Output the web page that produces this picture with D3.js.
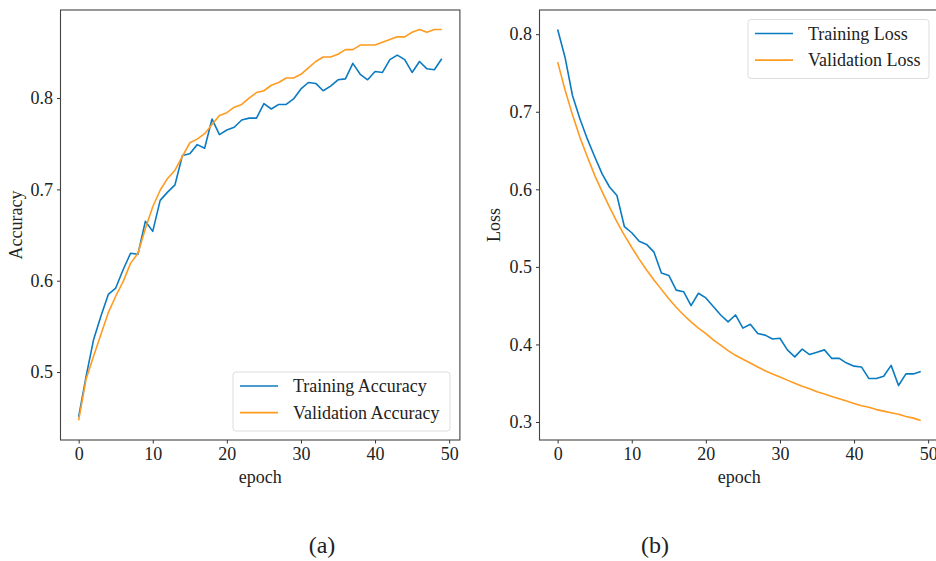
<!DOCTYPE html>
<html>
<head>
<meta charset="utf-8">
<script src="https://cdn.jsdelivr.net/npm/d3@7"></script>
<style>
  html, body { margin: 0; padding: 0; background: #fff; }
  svg { display: block; }
  text { font-family: "Liberation Serif", "Times New Roman", serif; fill: #222; }
</style>
</head>
<body>
<svg id="chart" width="936" height="561"></svg>
<script>
// ---- Data ----
const epochs = d3.range(0, 50);
const xTicks = [0, 10, 20, 30, 40, 50];
const accTicks = [0.5, 0.6, 0.7, 0.8];
const lossTicks = [0.3, 0.4, 0.5, 0.6, 0.7, 0.8];

const trainAcc = [0.451, 0.495, 0.535, 0.561, 0.585, 0.592, 0.612, 0.630, 0.629, 0.665,
  0.654, 0.688, 0.697, 0.705, 0.737, 0.739, 0.749, 0.745, 0.777, 0.760,
  0.765, 0.768, 0.776, 0.778, 0.778, 0.794, 0.788, 0.793, 0.793, 0.799,
  0.810, 0.817, 0.816, 0.808, 0.813, 0.820, 0.821, 0.838, 0.826, 0.820,
  0.829, 0.828, 0.842, 0.847, 0.842, 0.828, 0.840, 0.832, 0.831, 0.843];
const valAcc = [0.447, 0.492, 0.517, 0.541, 0.565, 0.583, 0.599, 0.619, 0.630, 0.657,
  0.681, 0.699, 0.712, 0.721, 0.736, 0.751, 0.755, 0.761, 0.771, 0.781,
  0.784, 0.790, 0.793, 0.800, 0.806, 0.808, 0.814, 0.817, 0.822, 0.822,
  0.826, 0.833, 0.840, 0.845, 0.845, 0.848, 0.853, 0.853, 0.858, 0.858,
  0.858, 0.861, 0.864, 0.867, 0.867, 0.872, 0.875, 0.872, 0.875, 0.875];
const trainLoss = [0.806, 0.770, 0.721, 0.691, 0.665, 0.642, 0.620, 0.603, 0.592, 0.552,
  0.544, 0.533, 0.529, 0.519, 0.492, 0.489, 0.470, 0.468, 0.450, 0.466,
  0.460, 0.449, 0.438, 0.429, 0.438, 0.421, 0.426, 0.414, 0.412, 0.407,
  0.408, 0.393, 0.384, 0.394, 0.387, 0.390, 0.393, 0.382, 0.382, 0.376,
  0.372, 0.371, 0.356, 0.356, 0.359, 0.373, 0.347, 0.362, 0.362, 0.365];
const valLoss = [0.764, 0.728, 0.696, 0.667, 0.642, 0.618, 0.597, 0.577, 0.558, 0.541,
  0.525, 0.510, 0.496, 0.483, 0.471, 0.459, 0.448, 0.438, 0.429, 0.421,
  0.414, 0.406, 0.399, 0.392, 0.386, 0.381, 0.376, 0.371, 0.366, 0.362,
  0.358, 0.354, 0.350, 0.346, 0.343, 0.339, 0.336, 0.333, 0.330, 0.327,
  0.324, 0.321, 0.319, 0.316, 0.314, 0.312, 0.310, 0.307, 0.305, 0.302];

const BLUE = "#0b7bc1";
const ORANGE = "#ff9b21";
const SERIF = '"Liberation Serif", "Times New Roman", serif';

const svg = d3.select("#chart");

function panel(opts) {
  const { left, top, bottom, ylabel, ylabelX, ticks, series, legend, caption, captionX } = opts;
  const all = series.flatMap(s => s.values);
  const [lo, hi] = d3.extent(all);
  const pad = (hi - lo) * 0.05;
  const x = d3.scaleLinear().domain([-2.45, 51.45]).range([left, left + 399.4]);
  const y = d3.scaleLinear().domain([lo - pad, hi + pad]).range([bottom, top]);

  const g = svg.append("g");
  const styleAxis = a => {
    a.attr("font-family", null).attr("font-size", null);
    a.select(".domain").remove();
    a.selectAll("line").attr("stroke", "#333");
    a.selectAll("text").style("font-family", SERIF).style("font-size", "18px").style("fill", "#222");
  };
  // x axis
  g.append("g").attr("transform", `translate(0,${bottom})`)
    .call(d3.axisBottom(x).tickValues(xTicks).tickFormat(d3.format("d")).tickSize(3.5).tickPadding(4))
    .call(styleAxis);
  // y axis
  g.append("g").attr("transform", `translate(${left},0)`)
    .call(d3.axisLeft(y).tickValues(ticks).tickFormat(d3.format(".1f")).tickSize(3.5).tickPadding(4))
    .call(styleAxis);

  const clipId = "clip" + Math.round(left);
  svg.append("clipPath").attr("id", clipId).append("rect")
    .attr("x", left).attr("y", top).attr("width", 399.4).attr("height", bottom - top);

  const line = d3.line().x((d, i) => x(epochs[i])).y(d => y(d));
  series.forEach(s => {
    g.append("path").datum(s.values)
      .attr("clip-path", `url(#${clipId})`)
      .attr("fill", "none").attr("stroke", s.color).attr("stroke-width", 1.6)
      .attr("stroke-linejoin", "round").attr("d", line);
  });

  // frame
  g.append("rect").attr("x", left).attr("y", top).attr("width", 399.4).attr("height", bottom - top)
    .attr("fill", "none").attr("stroke", "#444").attr("stroke-width", 1.1);

  // axis labels
  g.append("text").attr("x", left + 199.7).attr("y", bottom + 43)
    .attr("text-anchor", "middle").style("font-size", "18px").text("epoch");
  g.append("text").attr("transform", `translate(${ylabelX},${(top + bottom) / 2}) rotate(-90)`)
    .attr("text-anchor", "middle").style("font-size", "18px").text(ylabel);

  // legend
  const lg = g.append("g").attr("transform", `translate(${legend.x},${legend.y})`);
  lg.append("rect").attr("width", legend.w).attr("height", 59).attr("rx", 3)
    .attr("fill", "#fff").attr("fill-opacity", 0.85).attr("stroke", "#ddd").attr("stroke-width", 1);
  series.forEach((s, i) => {
    const yy = 14 + i * 26.6;
    lg.append("line").attr("x1", 7).attr("x2", 45).attr("y1", yy).attr("y2", yy)
      .attr("stroke", s.color).attr("stroke-width", 1.6);
    lg.append("text").attr("x", 60).attr("y", yy + 6).style("font-size", "18px").text(s.name);
  });

  svg.append("text").attr("x", captionX).attr("y", 553).attr("text-anchor", "middle")
    .style("font-size", "24px").text(caption);
}

panel({
  left: 60.5, top: 10, bottom: 440, ylabel: "Accuracy", ylabelX: 22, ticks: accTicks,
  series: [
    { name: "Training Accuracy", values: trainAcc, color: BLUE },
    { name: "Validation Accuracy", values: valAcc, color: ORANGE }
  ],
  legend: { x: 233, y: 372, w: 217 },
  caption: "(a)", captionX: 322
});

panel({
  left: 539.5, top: 10, bottom: 440, ylabel: "Loss", ylabelX: 500, ticks: lossTicks,
  series: [
    { name: "Training Loss", values: trainLoss, color: BLUE },
    { name: "Validation Loss", values: valLoss, color: ORANGE }
  ],
  legend: { x: 748, y: 19.5, w: 181 },
  caption: "(b)", captionX: 655
});
</script>
</body>
</html>
